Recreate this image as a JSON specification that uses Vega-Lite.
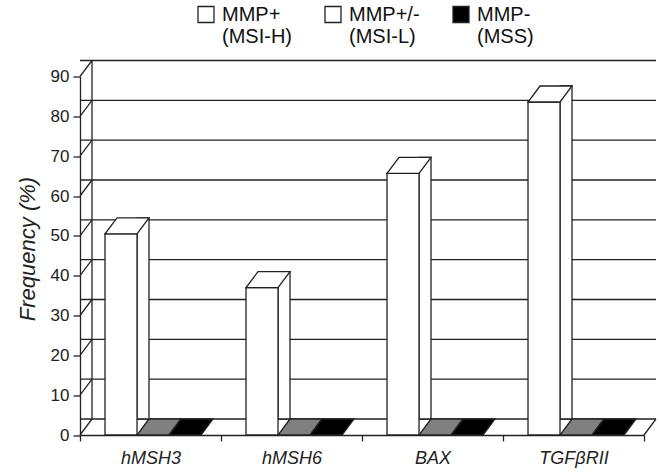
{
  "$schema": "https://vega.github.io/schema/vega-lite/v6.json",
  "width": 564,
  "height": 358.5,
  "autosize": {"type": "none"},
  "padding": {"left": 80, "top": 76.5, "right": 15, "bottom": 39},
  "background": "white",
  "config": {
    "view": {"stroke": null},
    "font": "Liberation Sans",
    "axis": {"grid": false, "domainColor": "#222", "tickColor": "#222", "labelColor": "#222", "titleColor": "#222", "domainWidth": 1.3, "tickWidth": 1.3}
  },
  "datasets": {
    "freq": [
      {"gene": "hMSH3", "series": "MMP+ (MSI-H)", "value": 50.5},
      {"gene": "hMSH3", "series": "MMP+/- (MSI-L)", "value": 0},
      {"gene": "hMSH3", "series": "MMP- (MSS)", "value": 0},
      {"gene": "hMSH6", "series": "MMP+ (MSI-H)", "value": 37},
      {"gene": "hMSH6", "series": "MMP+/- (MSI-L)", "value": 0},
      {"gene": "hMSH6", "series": "MMP- (MSS)", "value": 0},
      {"gene": "BAX", "series": "MMP+ (MSI-H)", "value": 65.7},
      {"gene": "BAX", "series": "MMP+/- (MSI-L)", "value": 0},
      {"gene": "BAX", "series": "MMP- (MSS)", "value": 0},
      {"gene": "TGFβRII", "series": "MMP+ (MSI-H)", "value": 83.6},
      {"gene": "TGFβRII", "series": "MMP+/- (MSI-L)", "value": 0},
      {"gene": "TGFβRII", "series": "MMP- (MSS)", "value": 0}
    ],
    "ticks": [
      {"tick": 0}, {"tick": 10}, {"tick": 20}, {"tick": 30}, {"tick": 40},
      {"tick": 50}, {"tick": 60}, {"tick": 70}, {"tick": 80}, {"tick": 90}
    ]
  },
  "resolve": {"scale": {"fill": "independent"}},
  "layer": [
    {
      "data": {"name": "ticks"},
      "mark": {"type": "rule", "color": "#222", "strokeWidth": 1.3, "xOffset": 12, "x2Offset": 16, "yOffset": -16},
      "encoding": {
        "y": {"field": "tick", "type": "quantitative", "scale": {"domain": [0, 90], "nice": false},
          "axis": {"title": "Frequency (%)", "titleFontStyle": "italic", "titleFontWeight": "normal", "titleFontSize": 22, "titleY": 172, "labelFontSize": 17, "labelOverlap": false, "tickCount": 10, "tickSize": 7, "labelPadding": 4, "titlePadding": 11, "values": [0, 10, 20, 30, 40, 50, 60, 70, 80, 90]}}
      }
    },
    {
      "data": {"name": "ticks"},
      "mark": {"type": "point", "shape": "M0,0L0.75,-1", "size": 1024, "filled": false, "stroke": "#222", "strokeWidth": 1.3, "opacity": 1},
      "encoding": {
        "x": {"datum": "hMSH3", "bandPosition": 0},
        "y": {"field": "tick", "type": "quantitative"}
      }
    },
    {
      "data": {"name": "ticks"},
      "transform": [{"filter": "datum.tick == 0"}],
      "mark": {"type": "rule", "color": "#222", "strokeWidth": 1.3, "xOffset": 12, "yOffset": -16, "y2Offset": -16},
      "encoding": {
        "x": {"datum": "hMSH3", "bandPosition": 0},
        "y": {"field": "tick", "type": "quantitative"},
        "y2": {"datum": 90}
      }
    },
    {
      "data": {"name": "ticks"},
      "transform": [{"filter": "datum.tick == 0"}],
      "mark": {"type": "point", "shape": "M0,0L0.75,-1", "size": 1024, "filled": false, "stroke": "#222", "strokeWidth": 1.3, "opacity": 1},
      "encoding": {
        "x": {"datum": "TGFβRII", "bandPosition": 1},
        "y": {"field": "tick", "type": "quantitative"}
      }
    },
    {
      "data": {"name": "freq"},
      "transform": [{"filter": "datum.series == 'MMP+ (MSI-H)'"}],
      "mark": {"type": "bar", "fill": "white", "stroke": "#222", "strokeWidth": 1.3, "width": 12, "xOffset": -7.5, "yOffset": -16},
      "encoding": {
        "x": {"field": "gene", "type": "nominal", "sort": null, "scale": {"domain": ["hMSH3", "hMSH6", "BAX", "TGFβRII"], "paddingInner": 0, "paddingOuter": 0}},
        "y": {"field": "value", "type": "quantitative"}
      }
    },
    {
      "data": {"name": "freq"},
      "transform": [{"filter": "datum.series == 'MMP+ (MSI-H)'"}],
      "mark": {"type": "bar", "stroke": "#222", "strokeWidth": 1.3},
      "encoding": {
        "x": {"field": "gene", "type": "nominal", "sort": null,
          "axis": {"title": null, "labelAngle": 0, "labelFontStyle": "italic", "labelFontSize": 18, "tickBand": "extent", "bandPosition": 0.5, "labelAlign": "center", "tickSize": 6, "labelPadding": 17}},
        "xOffset": {"field": "series", "type": "nominal", "scale": {"domain": ["MMP+ (MSI-H)", "MMP+/- (MSI-L)", "MMP- (MSS)"], "paddingInner": 0, "paddingOuter": 0.703, "align": 0.556}},
        "y": {"field": "value", "type": "quantitative"},
        "fill": {"field": "series", "type": "nominal",
          "scale": {"domain": ["MMP+ (MSI-H)", "MMP+/- (MSI-L)", "MMP- (MSS)"], "range": ["white", "white", "black"]},
          "legend": {"title": null, "orient": "none", "legendX": 116, "legendY": -72, "direction": "horizontal",
            "symbolType": "square", "symbolSize": 256, "symbolStrokeColor": "#222", "symbolStrokeWidth": 1.3,
            "labelFontSize": 20, "labelColor": "#111", "labelExpr": "split(datum.label, ' ')", "columnPadding": 30, "padding": 0, "labelOffset": 6}}
      }
    },
    {
      "data": {"name": "freq"},
      "transform": [{"filter": "datum.series == 'MMP+ (MSI-H)'"}],
      "mark": {"type": "point", "shape": "M-1,0L1,0L1.75,-1L-0.25,-1Z", "size": 1024, "filled": true, "fill": "white", "stroke": "#222", "strokeWidth": 1.3, "opacity": 1},
      "encoding": {
        "x": {"field": "gene", "type": "nominal", "sort": null},
        "xOffset": {"field": "series", "type": "nominal"},
        "y": {"field": "value", "type": "quantitative"}
      }
    },
    {
      "data": {"name": "freq"},
      "transform": [{"filter": "datum.series != 'MMP+ (MSI-H)'"}],
      "mark": {"type": "point", "shape": "M-1,0L1,0L1.75,-1L-0.25,-1Z", "size": 1024, "filled": true, "stroke": "#222", "strokeWidth": 1.3, "opacity": 1},
      "encoding": {
        "x": {"field": "gene", "type": "nominal", "sort": null},
        "xOffset": {"field": "series", "type": "nominal"},
        "y": {"field": "value", "type": "quantitative"},
        "fill": {"field": "series", "type": "nominal",
          "scale": {"domain": ["MMP+ (MSI-H)", "MMP+/- (MSI-L)", "MMP- (MSS)"], "range": ["white", "#808080", "black"]},
          "legend": null}
      }
    }
  ]
}
